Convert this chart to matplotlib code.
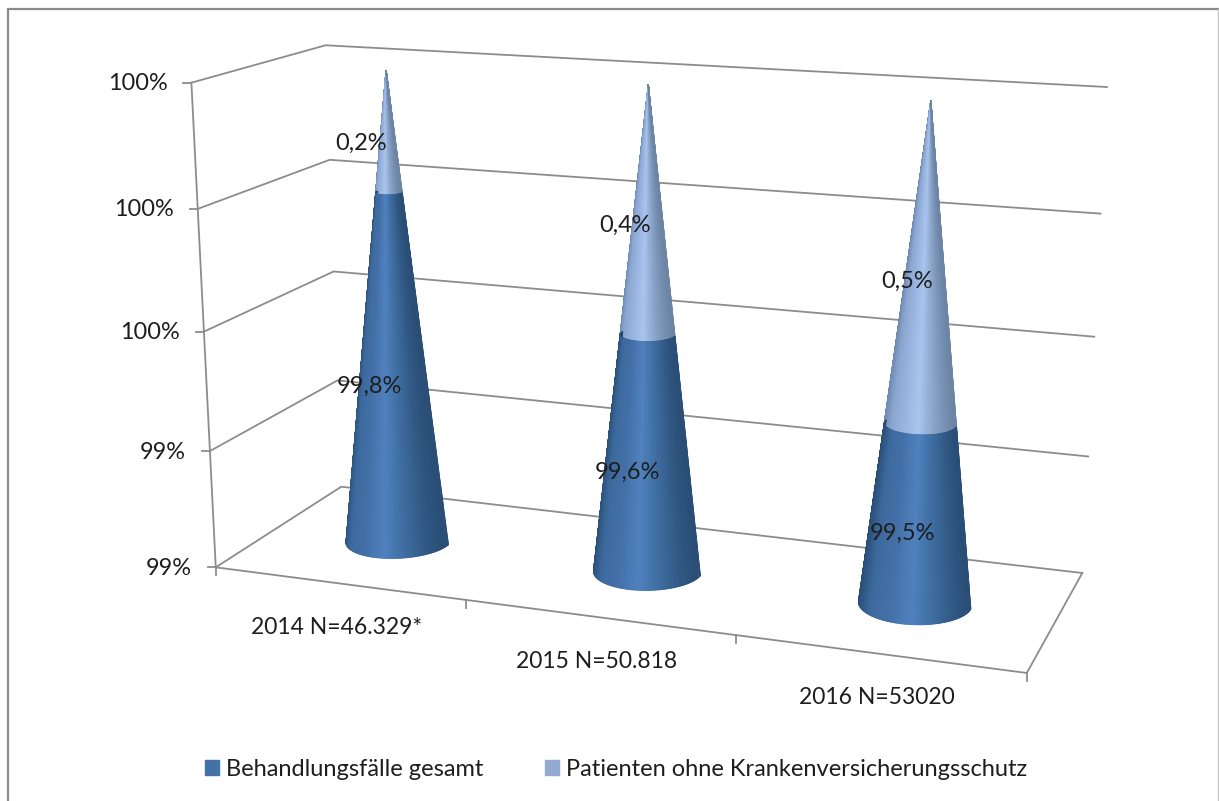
"""3D cone chart drawn on a flat axes through a fitted camera projection."""

import numpy as np
import matplotlib
matplotlib.use("Agg")
import matplotlib.pyplot as plt
from matplotlib.colors import LinearSegmentedColormap
from matplotlib.patches import Patch

plt.rcParams["font.family"] = ["Lato", "DejaVu Sans"]

W, H = 1219, 801

# ── Data ─────────────────────────────────────────────────────────────────────
categories = ["2014 N=46.329*", "2015 N=50.818", "2016 N=53020"]
series_names = ["Behandlungsfälle gesamt", "Patienten ohne Krankenversicherungsschutz"]
behandlung = [99.75, 99.50, 99.37]      # height of the split
label_behandlung = ["99,8%", "99,6%", "99,5%"]
label_patienten = ["0,2%", "0,4%", "0,5%"]
axis_min, axis_max = 99.0, 100.0
axis_ticks = [99.0, 99.25, 99.5, 99.75, 100.0]
axis_tick_labels = ["99%", "99%", "100%", "100%", "100%"]

# ── Camera: unit box (u along categories, v depth, w value) to image pixels ──
BOX = [
    ((0, 0, 0), (215, 567)), ((0, 0, 1), (192, 83)),
    ((0, 1, 0), (342, 487)), ((0, 1, 1), (325, 45)),
    ((1, 1, 0), (1082, 573)), ((1, 1, 1), (1107, 87)),
    ((1, 0, 0), (1027, 673)),
]
rows = []
for (u, v, w), (x, y) in BOX:
    rows.append([u, v, w, 1, 0, 0, 0, 0, -x*u, -x*v, -x*w, -x])
    rows.append([0, 0, 0, 0, u, v, w, 1, -y*u, -y*v, -y*w, -y])
CAM = np.linalg.svd(np.array(rows, dtype=float))[2][-1].reshape(3, 4)


def project(u, v, w):
    u, v, w = np.broadcast_arrays(np.asarray(u, float), np.asarray(v, float), np.asarray(w, float))
    p = CAM @ np.array([u.ravel(), v.ravel(), w.ravel(), np.ones(u.size)])
    x, y = p[0] / p[2], p[1] / p[2]
    return x.reshape(u.shape), y.reshape(u.shape)


def val2w(val):
    return (val - axis_min) / (axis_max - axis_min)


fig = plt.figure(figsize=(W / 100, H / 100), dpi=100)
ax = fig.add_axes([0, 0, 1, 1])
ax.set_xlim(0, W)
ax.set_ylim(H, 0)
ax.axis("off")

# chart frame, cut off at the bottom of the picture
ax.plot([8, 8, 1218], [H, 9, 9], color="#8a8a8a", lw=1.6, solid_joinstyle="miter")
ax.plot([1218, 1218], [9, H], color="#c4c4c4", lw=1)

# ── Walls and floor ──────────────────────────────────────────────────────────
GRID = "#8c8c8c"
LW = 1.3
TXT = "#1e1e1e"
for val, lab in zip(axis_ticks, axis_tick_labels):
    w = val2w(val)
    x, y = project([0, 0, 1], [0, 1, 1], w)
    ax.plot(x, y, color=GRID, lw=LW, zorder=1)
    ax.plot([x[0] - 8, x[0]], [y[0], y[0]], color=GRID, lw=LW, zorder=1)
    ax.annotate(lab, (x[0], y[0] + 1), xytext=(-24, 0), textcoords="offset pixels",
                ha="right", va="center", fontsize=16.9, color=TXT)

x, y = project([0, 0, 1, 1], [0, 0, 0, 1], [1, 0, 0, 0])
ax.plot(x, y, color=GRID, lw=LW, zorder=1)
for k in range(4):
    tx, ty = project(k / 3, 0, 0)
    ax.plot([tx, tx], [ty, ty + 8], color=GRID, lw=LW, zorder=1)

# ── Cones ────────────────────────────────────────────────────────────────────
cmap_low = LinearSegmentedColormap.from_list(
    "low", ["#274a70", "#3d6a9e", "#4470a8", "#5082bf", "#3d6a9c", "#2a4e76"])
cmap_up = LinearSegmentedColormap.from_list(
    "up", ["#6b86ab", "#8ca7d2", "#9ab5e0", "#aac5ee", "#8aa3c8", "#6d85a5"])

R_U, R_V = 0.066, 0.21
V_C = 0.5
# front half of the circle, the band is open at the top
theta = np.linspace(np.pi - 0.04, 2 * np.pi + 0.04, 121)


def draw_band(uc, w0, w1, cmap):
    th, w = np.meshgrid(theta, np.linspace(w0, w1, 8))
    s = 1 - w       # radius shrinks linearly to the apex at the top of the axis
    x, y = project(uc + R_U * s * np.cos(th), V_C + R_V * s * np.sin(th), w)
    ax.pcolormesh(x, y, (1 + np.cos(th)) / 2, shading="gouraud", cmap=cmap,
                  vmin=0, vmax=1, zorder=3)


up_dx, up_dy = [-27, -23, -19], [12, 14, 16]
low_dx, low_dy = [-25, -21, -15], [17, 19, 19]
for i, cat in enumerate(categories):
    uc = (i + 0.5) / 3
    split = val2w(behandlung[i])
    draw_band(uc, split, 1.0, cmap_up)
    draw_band(uc, 0.0, split, cmap_low)

    mx, my = project(uc, V_C, (split + 1.0) / 2)
    ax.text(mx + up_dx[i], my + up_dy[i], label_patienten[i], ha="center", va="center",
            fontsize=17, color=TXT, zorder=5)
    mx, my = project(uc, V_C, split / 2)
    ax.text(mx + low_dx[i], my + low_dy[i], label_behandlung[i], ha="center", va="center",
            fontsize=17, color=TXT, zorder=5)

    ex, ey = project(uc, 0, 0)
    ax.annotate(cat, (ex, ey), xytext=(-2, -44), textcoords="offset pixels",
                ha="center", va="center", fontsize=16.5, color=TXT)

# ── Legend ───────────────────────────────────────────────────────────────────
handles = [Patch(color="#4472a6", label=series_names[0]),
           Patch(color="#93a9d0", label=series_names[1])]
ax.legend(handles=handles, loc="center", bbox_to_anchor=(616 / W, 1 - 769 / H),
          ncol=2, frameon=False, fontsize=17, labelcolor=TXT,
          handlelength=0.6, handleheight=0.6, handletextpad=0.3, columnspacing=2.6)

plt.savefig("out.png", dpi=100)
plt.close()
